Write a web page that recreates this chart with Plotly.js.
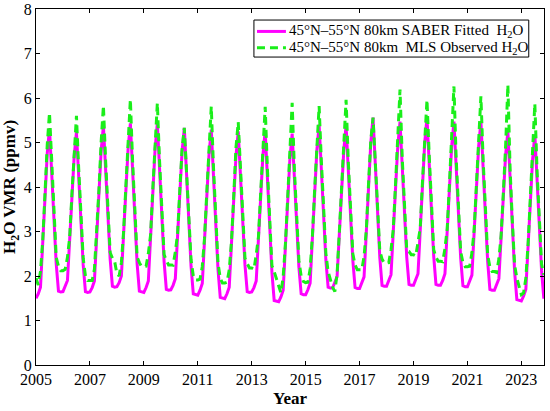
<!DOCTYPE html>
<html>
<head>
<meta charset="utf-8">
<script src="https://cdn.plot.ly/plotly-3.0.1.min.js"></script>
<style>html,body{margin:0;padding:0;background:#fff;}#chart{width:550px;height:411px;}</style>
</head>
<body>
<div id="chart"></div>
<script>
// Monthly values, Jan 2005 .. Nov 2023 (one row per year, Jan..Dec)
var startYear = 2005;
var saberH2O = [
  1.50,1.60,1.75,2.75,3.75,4.75,5.32,4.29,3.26,2.27,1.66,1.64,
  1.65,1.76,1.90,2.83,3.76,4.70,5.23,4.22,3.22,2.25,1.65,1.63,
  1.64,1.74,1.89,2.87,3.84,4.82,5.38,4.37,3.35,2.38,1.77,1.75,
  1.76,1.85,2.00,2.96,3.92,4.88,5.43,4.37,3.31,2.28,1.66,1.64,
  1.63,1.74,1.89,2.88,3.87,4.86,5.43,4.38,3.34,2.33,1.70,1.68,
  1.69,1.79,1.94,2.89,3.84,4.79,5.33,4.28,3.23,2.22,1.60,1.58,
  1.57,1.68,1.83,2.80,3.77,4.74,5.29,4.23,3.17,2.14,1.52,1.50,
  1.49,1.60,1.75,2.73,3.71,4.69,5.25,4.24,3.23,2.25,1.65,1.63,
  1.64,1.74,1.89,2.83,3.78,4.72,5.26,4.19,3.12,2.08,1.45,1.43,
  1.42,1.53,1.68,2.67,3.65,4.64,5.20,4.19,3.18,2.20,1.60,1.58,
  1.58,1.69,1.84,2.84,3.83,4.83,5.40,4.38,3.35,2.36,1.75,1.73,
  1.73,1.84,1.99,2.94,3.89,4.84,5.38,4.36,3.34,2.35,1.74,1.72,
  1.72,1.83,1.98,2.98,3.98,4.99,5.56,4.50,3.44,2.42,1.79,1.77,
  1.77,1.88,2.03,2.99,3.96,4.92,5.47,4.44,3.41,2.42,1.81,1.79,
  1.79,1.90,2.05,3.03,4.02,5.00,5.56,4.51,3.45,2.44,1.81,1.79,
  1.79,1.90,2.05,3.01,3.97,4.92,5.47,4.43,3.40,2.40,1.78,1.76,
  1.76,1.87,2.02,2.99,3.95,4.92,5.47,4.41,3.35,2.33,1.70,1.68,
  1.68,1.79,1.94,2.87,3.79,4.72,5.25,4.19,3.12,2.10,1.47,1.45,
  1.44,1.55,1.70,2.67,3.65,4.62,5.18,4.15,3.11,2.12,1.49
];
var mlsH2O = [
  1.95,1.80,2.10,2.80,3.85,4.95,5.67,4.49,3.36,2.42,2.22,2.12,
  2.12,2.15,2.42,2.88,3.86,4.90,5.60,4.42,3.32,2.40,2.00,1.90,
  1.90,1.90,2.15,2.92,3.94,5.02,5.83,4.57,3.45,2.53,2.40,2.33,
  2.05,2.00,2.30,3.01,4.02,5.08,5.97,4.57,3.41,2.43,2.30,2.21,
  2.21,2.22,2.51,2.93,3.97,5.06,5.89,4.58,3.44,2.48,2.35,2.25,
  2.25,2.24,2.54,2.94,3.94,4.85,5.33,4.35,3.33,2.37,2.00,1.91,
  1.91,1.93,2.21,2.85,3.87,4.94,5.81,4.43,3.27,2.29,1.95,1.84,
  1.84,1.86,2.14,2.78,3.81,4.89,5.46,4.44,3.33,2.40,2.28,2.18,
  2.18,2.15,2.48,2.88,3.88,4.92,5.80,4.39,3.22,2.23,2.10,1.95,
  1.75,1.62,1.98,2.72,3.75,4.84,5.89,4.39,3.28,2.35,2.00,1.88,
  1.85,1.86,2.16,2.89,3.93,5.03,5.82,4.58,3.45,2.51,2.10,1.90,
  1.75,1.65,2.05,2.99,3.99,5.04,5.96,4.56,3.44,2.50,2.25,2.14,
  2.14,2.14,2.44,3.03,4.08,5.05,5.56,4.60,3.54,2.57,2.38,2.29,
  2.29,2.30,2.59,3.04,4.06,5.12,6.19,4.64,3.51,2.57,2.55,2.48,
  2.48,2.45,2.75,3.08,4.12,5.20,5.96,4.71,3.55,2.59,2.42,2.33,
  2.33,2.32,2.62,3.06,4.07,5.12,6.26,4.63,3.50,2.55,2.30,2.21,
  2.21,2.22,2.52,3.04,4.05,5.12,6.04,4.61,3.45,2.48,2.20,2.10,
  2.10,2.08,2.38,2.92,3.89,4.92,6.30,4.39,3.22,2.25,1.95,1.75,
  1.58,1.62,1.95,2.72,3.75,4.82,5.87,4.35,3.21,2.27,2.03
];
var xTickVals = [2005,2007,2009,2011,2013,2015,2017,2019,2021,2023];
var yTickVals = [0,1,2,3,4,5,6,7,8];
var seriesNames = [
  "45°N–55°N 80km SABER Fitted\u00a0 H<sub>2</sub>O",
  "45°N–55°N 80km\u00a0 MLS Observed H<sub>2</sub>O"
];
var seriesColors = ['#ff00ff', '#1aee1a'];
var seriesDash = ['solid', '8px,5px'];

// decimal-year time coordinate for each monthly sample
var t = [];
for (var i = 0; i < saberH2O.length; i++) {
  t.push(startYear + Math.floor(i / 12) + (i % 12) / 12);
}

var traces = [
  {x: t, y: saberH2O, type: 'scatter', mode: 'lines', name: seriesNames[0],
   line: {color: seriesColors[0], width: 3}},
  {x: t, y: mlsH2O, type: 'scatter', mode: 'lines', name: seriesNames[1],
   line: {color: seriesColors[1], width: 3, dash: seriesDash[1]}}
];

var fontFam = '"Liberation Serif", "Times New Roman", serif';

// Hand-built legend box (paper coordinates)
var legBox = {x0: 0.429, x1: 0.970, y0: 0.865, y1: 0.969};
var legRows = [0.937, 0.891];
var shapes = [
  {type: 'rect', xref: 'paper', yref: 'paper', x0: legBox.x0, x1: legBox.x1, y0: legBox.y0, y1: legBox.y1,
   line: {color: '#000', width: 1}, fillcolor: '#fff', layer: 'above'}
];
var annotations = [];
for (var k = 0; k < 2; k++) {
  shapes.push({type: 'line', xref: 'paper', yref: 'paper', x0: 0.435, x1: 0.492, y0: legRows[k], y1: legRows[k],
    line: {color: seriesColors[k], width: 3, dash: seriesDash[k]}, layer: 'above'});
  annotations.push({xref: 'paper', yref: 'paper', x: 0.494, y: legRows[k], xanchor: 'left', yanchor: 'middle',
    text: seriesNames[k], showarrow: false, font: {family: fontFam, size: 15, color: '#000'}});
}

var layout = {
  width: 550, height: 411,
  margin: {l: 36, r: 6, t: 9, b: 46},
  paper_bgcolor: '#fff', plot_bgcolor: '#fff',
  font: {family: fontFam, size: 16, color: '#000'},
  showlegend: false,
  shapes: shapes,
  annotations: annotations,
  xaxis: {
    range: [2005, 2023.84], tickvals: xTickVals, ticktext: xTickVals.map(String),
    ticks: 'inside', ticklen: 4, tickwidth: 1, tickcolor: '#000',
    showline: true, linecolor: '#000', linewidth: 1, mirror: 'ticks',
    showgrid: false, zeroline: false,
    tickfont: {family: fontFam, size: 16},
    title: {text: '<b>Year</b>', font: {family: fontFam, size: 17}, standoff: 4}
  },
  yaxis: {
    range: [0, 8], tickvals: yTickVals,
    ticks: 'inside', ticklen: 4, tickwidth: 1, tickcolor: '#000',
    showline: true, linecolor: '#000', linewidth: 1, mirror: 'ticks',
    showgrid: false, zeroline: false,
    tickfont: {family: fontFam, size: 16},
    title: {text: '<b>H<sub>2</sub>O VMR (ppmv)</b>', font: {family: fontFam, size: 17}, standoff: 4}
  }
};

Plotly.newPlot('chart', traces, layout, {displayModeBar: false, staticPlot: true});
</script>
</body>
</html>
